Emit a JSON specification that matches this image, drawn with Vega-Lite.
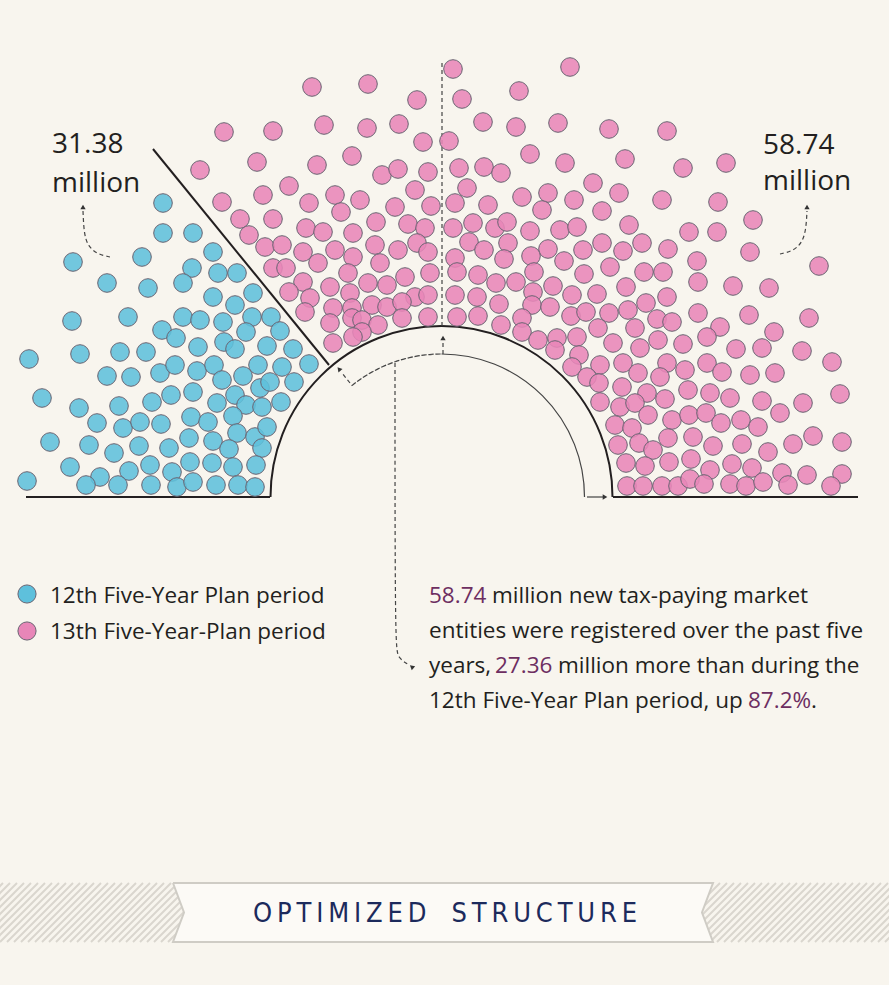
{
  "$schema": "https://vega.github.io/schema/vega-lite/v6.json",
  "width": 889,
  "height": 985,
  "padding": 0,
  "autosize": {"type": "fit", "contains": "padding"},
  "background": "#f8f5ee",
  "config": {"view": {"stroke": null}},
  "datasets": {
    "stripes": [
      {"x":-56,"x2":3,"y":942,"y2":883},{"x":-49,"x2":10,"y":942,"y2":883},{"x":-42,"x2":17,"y":942,"y2":883},{"x":-35,"x2":24,"y":942,"y2":883},{"x":-28,"x2":31,"y":942,"y2":883},{"x":-21,"x2":38,"y":942,"y2":883},{"x":-14,"x2":45,"y":942,"y2":883},{"x":-7,"x2":52,"y":942,"y2":883},{"x":0,"x2":59,"y":942,"y2":883},{"x":7,"x2":66,"y":942,"y2":883},{"x":14,"x2":73,"y":942,"y2":883},{"x":21,"x2":80,"y":942,"y2":883},{"x":28,"x2":87,"y":942,"y2":883},{"x":35,"x2":94,"y":942,"y2":883},{"x":42,"x2":101,"y":942,"y2":883},{"x":49,"x2":108,"y":942,"y2":883},{"x":56,"x2":115,"y":942,"y2":883},{"x":63,"x2":122,"y":942,"y2":883},{"x":70,"x2":129,"y":942,"y2":883},{"x":77,"x2":136,"y":942,"y2":883},{"x":84,"x2":143,"y":942,"y2":883},{"x":91,"x2":150,"y":942,"y2":883},{"x":98,"x2":157,"y":942,"y2":883},{"x":105,"x2":164,"y":942,"y2":883},{"x":112,"x2":171,"y":942,"y2":883},{"x":119,"x2":178,"y":942,"y2":883},{"x":126,"x2":185,"y":942,"y2":883},{"x":133,"x2":192,"y":942,"y2":883},{"x":140,"x2":199,"y":942,"y2":883},{"x":147,"x2":206,"y":942,"y2":883},{"x":154,"x2":213,"y":942,"y2":883},{"x":161,"x2":220,"y":942,"y2":883},{"x":168,"x2":227,"y":942,"y2":883},{"x":175,"x2":234,"y":942,"y2":883},
      {"x":654,"x2":713,"y":942,"y2":883},{"x":661,"x2":720,"y":942,"y2":883},{"x":668,"x2":727,"y":942,"y2":883},{"x":675,"x2":734,"y":942,"y2":883},{"x":682,"x2":741,"y":942,"y2":883},{"x":689,"x2":748,"y":942,"y2":883},{"x":696,"x2":755,"y":942,"y2":883},{"x":703,"x2":762,"y":942,"y2":883},{"x":710,"x2":769,"y":942,"y2":883},{"x":717,"x2":776,"y":942,"y2":883},{"x":724,"x2":783,"y":942,"y2":883},{"x":731,"x2":790,"y":942,"y2":883},{"x":738,"x2":797,"y":942,"y2":883},{"x":745,"x2":804,"y":942,"y2":883},{"x":752,"x2":811,"y":942,"y2":883},{"x":759,"x2":818,"y":942,"y2":883},{"x":766,"x2":825,"y":942,"y2":883},{"x":773,"x2":832,"y":942,"y2":883},{"x":780,"x2":839,"y":942,"y2":883},{"x":787,"x2":846,"y":942,"y2":883},{"x":794,"x2":853,"y":942,"y2":883},{"x":801,"x2":860,"y":942,"y2":883},{"x":808,"x2":867,"y":942,"y2":883},{"x":815,"x2":874,"y":942,"y2":883},{"x":822,"x2":881,"y":942,"y2":883},{"x":829,"x2":888,"y":942,"y2":883},{"x":836,"x2":895,"y":942,"y2":883},{"x":843,"x2":902,"y":942,"y2":883},{"x":850,"x2":909,"y":942,"y2":883},{"x":857,"x2":916,"y":942,"y2":883},{"x":864,"x2":923,"y":942,"y2":883},{"x":871,"x2":930,"y":942,"y2":883},{"x":878,"x2":937,"y":942,"y2":883},{"x":885,"x2":944,"y":942,"y2":883}
    ],
    "dots": [
      {"x":163,"y":203,"g":"b"},{"x":163,"y":233,"g":"b"},{"x":193,"y":233,"g":"b"},{"x":73,"y":262,"g":"b"},{"x":142,"y":257,"g":"b"},{"x":213,"y":252,"g":"b"},{"x":107,"y":283,"g":"b"},{"x":148,"y":288,"g":"b"},{"x":192,"y":268,"g":"b"},{"x":218,"y":273,"g":"b"},{"x":237,"y":273,"g":"b"},{"x":183,"y":283,"g":"b"},{"x":213,"y":297,"g":"b"},{"x":253,"y":293,"g":"b"},{"x":235,"y":305,"g":"b"},
      {"x":72,"y":321,"g":"b"},{"x":128,"y":317,"g":"b"},{"x":183,"y":317,"g":"b"},{"x":200,"y":320,"g":"b"},{"x":223,"y":322,"g":"b"},{"x":252,"y":317,"g":"b"},{"x":271,"y":317,"g":"b"},{"x":162,"y":330,"g":"b"},{"x":176,"y":338,"g":"b"},{"x":246,"y":332,"g":"b"},{"x":280,"y":331,"g":"b"},
      {"x":29,"y":359,"g":"b"},{"x":80,"y":354,"g":"b"},{"x":120,"y":352,"g":"b"},{"x":146,"y":352,"g":"b"},{"x":198,"y":347,"g":"b"},{"x":224,"y":342,"g":"b"},{"x":235,"y":349,"g":"b"},{"x":267,"y":346,"g":"b"},{"x":293,"y":349,"g":"b"},{"x":309,"y":364,"g":"b"},
      {"x":107,"y":376,"g":"b"},{"x":131,"y":377,"g":"b"},{"x":160,"y":373,"g":"b"},{"x":175,"y":365,"g":"b"},{"x":197,"y":371,"g":"b"},{"x":214,"y":365,"g":"b"},{"x":222,"y":380,"g":"b"},{"x":243,"y":376,"g":"b"},{"x":258,"y":365,"g":"b"},{"x":282,"y":367,"g":"b"},{"x":260,"y":388,"g":"b"},{"x":270,"y":382,"g":"b"},{"x":294,"y":382,"g":"b"},
      {"x":42,"y":398,"g":"b"},{"x":79,"y":408,"g":"b"},{"x":119,"y":406,"g":"b"},{"x":152,"y":402,"g":"b"},{"x":171,"y":395,"g":"b"},{"x":193,"y":392,"g":"b"},{"x":217,"y":403,"g":"b"},{"x":235,"y":395,"g":"b"},{"x":246,"y":405,"g":"b"},{"x":262,"y":407,"g":"b"},{"x":281,"y":402,"g":"b"},
      {"x":97,"y":423,"g":"b"},{"x":123,"y":428,"g":"b"},{"x":140,"y":422,"g":"b"},{"x":161,"y":424,"g":"b"},{"x":191,"y":417,"g":"b"},{"x":208,"y":422,"g":"b"},{"x":233,"y":416,"g":"b"},{"x":237,"y":433,"g":"b"},{"x":255,"y":437,"g":"b"},{"x":267,"y":427,"g":"b"},
      {"x":50,"y":442,"g":"b"},{"x":89,"y":445,"g":"b"},{"x":114,"y":453,"g":"b"},{"x":139,"y":446,"g":"b"},{"x":169,"y":448,"g":"b"},{"x":189,"y":438,"g":"b"},{"x":213,"y":441,"g":"b"},{"x":229,"y":449,"g":"b"},{"x":262,"y":448,"g":"b"},
      {"x":70,"y":467,"g":"b"},{"x":100,"y":477,"g":"b"},{"x":129,"y":471,"g":"b"},{"x":150,"y":465,"g":"b"},{"x":172,"y":472,"g":"b"},{"x":190,"y":462,"g":"b"},{"x":212,"y":463,"g":"b"},{"x":233,"y":467,"g":"b"},{"x":256,"y":465,"g":"b"},
      {"x":27,"y":481,"g":"b"},{"x":86,"y":485,"g":"b"},{"x":118,"y":485,"g":"b"},{"x":151,"y":485,"g":"b"},{"x":177,"y":487,"g":"b"},{"x":193,"y":482,"g":"b"},{"x":216,"y":485,"g":"b"},{"x":238,"y":485,"g":"b"},{"x":255,"y":487,"g":"b"},
      {"x":312,"y":87,"g":"p"},{"x":368,"y":84,"g":"p"},{"x":453,"y":69,"g":"p"},{"x":570,"y":67,"g":"p"},{"x":417,"y":100,"g":"p"},{"x":462,"y":99,"g":"p"},{"x":519,"y":91,"g":"p"},
      {"x":224,"y":132,"g":"p"},{"x":273,"y":131,"g":"p"},{"x":324,"y":125,"g":"p"},{"x":367,"y":128,"g":"p"},{"x":399,"y":124,"g":"p"},{"x":483,"y":122,"g":"p"},{"x":516,"y":127,"g":"p"},{"x":558,"y":123,"g":"p"},{"x":609,"y":129,"g":"p"},{"x":667,"y":131,"g":"p"},
      {"x":423,"y":142,"g":"p"},{"x":449,"y":141,"g":"p"},{"x":530,"y":154,"g":"p"},{"x":565,"y":163,"g":"p"},{"x":625,"y":159,"g":"p"},{"x":683,"y":168,"g":"p"},{"x":726,"y":163,"g":"p"},
      {"x":200,"y":170,"g":"p"},{"x":257,"y":162,"g":"p"},{"x":317,"y":165,"g":"p"},{"x":352,"y":156,"g":"p"},{"x":382,"y":175,"g":"p"},{"x":398,"y":169,"g":"p"},{"x":428,"y":172,"g":"p"},{"x":459,"y":168,"g":"p"},{"x":484,"y":167,"g":"p"},{"x":501,"y":173,"g":"p"},
      {"x":289,"y":186,"g":"p"},{"x":415,"y":190,"g":"p"},{"x":467,"y":188,"g":"p"},{"x":593,"y":183,"g":"p"},
      {"x":222,"y":202,"g":"p"},{"x":263,"y":195,"g":"p"},{"x":309,"y":203,"g":"p"},{"x":335,"y":195,"g":"p"},{"x":360,"y":200,"g":"p"},{"x":395,"y":207,"g":"p"},{"x":431,"y":206,"g":"p"},{"x":455,"y":203,"g":"p"},{"x":488,"y":205,"g":"p"},{"x":522,"y":197,"g":"p"},{"x":548,"y":193,"g":"p"},{"x":574,"y":200,"g":"p"},{"x":619,"y":193,"g":"p"},{"x":662,"y":200,"g":"p"},{"x":718,"y":202,"g":"p"},
      {"x":341,"y":212,"g":"p"},{"x":542,"y":210,"g":"p"},{"x":602,"y":211,"g":"p"},{"x":753,"y":220,"g":"p"},
      {"x":240,"y":219,"g":"p"},{"x":273,"y":219,"g":"p"},{"x":306,"y":228,"g":"p"},{"x":323,"y":232,"g":"p"},{"x":376,"y":222,"g":"p"},{"x":408,"y":224,"g":"p"},{"x":425,"y":228,"g":"p"},{"x":453,"y":228,"g":"p"},{"x":473,"y":223,"g":"p"},{"x":495,"y":228,"g":"p"},{"x":507,"y":222,"g":"p"},{"x":530,"y":231,"g":"p"},{"x":560,"y":230,"g":"p"},{"x":577,"y":227,"g":"p"},{"x":629,"y":225,"g":"p"},{"x":689,"y":232,"g":"p"},{"x":717,"y":232,"g":"p"},
      {"x":249,"y":235,"g":"p"},{"x":353,"y":233,"g":"p"},{"x":469,"y":242,"g":"p"},{"x":417,"y":243,"g":"p"},{"x":375,"y":245,"g":"p"},{"x":508,"y":243,"g":"p"},{"x":602,"y":243,"g":"p"},{"x":642,"y":243,"g":"p"},
      {"x":265,"y":247,"g":"p"},{"x":282,"y":245,"g":"p"},{"x":303,"y":252,"g":"p"},{"x":335,"y":250,"g":"p"},{"x":398,"y":250,"g":"p"},{"x":548,"y":249,"g":"p"},{"x":583,"y":250,"g":"p"},{"x":623,"y":251,"g":"p"},{"x":668,"y":249,"g":"p"},{"x":750,"y":252,"g":"p"},{"x":484,"y":250,"g":"p"},
      {"x":353,"y":257,"g":"p"},{"x":428,"y":252,"g":"p"},{"x":455,"y":258,"g":"p"},{"x":504,"y":259,"g":"p"},{"x":531,"y":256,"g":"p"},{"x":564,"y":261,"g":"p"},{"x":697,"y":261,"g":"p"},{"x":819,"y":266,"g":"p"},
      {"x":273,"y":268,"g":"p"},{"x":286,"y":268,"g":"p"},{"x":318,"y":263,"g":"p"},{"x":380,"y":263,"g":"p"},{"x":348,"y":273,"g":"p"},{"x":405,"y":277,"g":"p"},{"x":430,"y":273,"g":"p"},{"x":457,"y":272,"g":"p"},{"x":478,"y":275,"g":"p"},{"x":534,"y":272,"g":"p"},{"x":584,"y":274,"g":"p"},{"x":610,"y":267,"g":"p"},{"x":644,"y":272,"g":"p"},{"x":663,"y":272,"g":"p"},
      {"x":303,"y":282,"g":"p"},{"x":368,"y":283,"g":"p"},{"x":387,"y":285,"g":"p"},{"x":496,"y":283,"g":"p"},{"x":516,"y":282,"g":"p"},{"x":553,"y":286,"g":"p"},{"x":626,"y":287,"g":"p"},{"x":698,"y":282,"g":"p"},{"x":733,"y":286,"g":"p"},{"x":769,"y":288,"g":"p"},
      {"x":289,"y":292,"g":"p"},{"x":330,"y":287,"g":"p"},{"x":350,"y":293,"g":"p"},{"x":310,"y":298,"g":"p"},{"x":415,"y":297,"g":"p"},{"x":428,"y":295,"g":"p"},{"x":455,"y":295,"g":"p"},{"x":477,"y":297,"g":"p"},{"x":533,"y":292,"g":"p"},{"x":572,"y":295,"g":"p"},{"x":597,"y":294,"g":"p"},{"x":667,"y":297,"g":"p"},
      {"x":333,"y":308,"g":"p"},{"x":352,"y":308,"g":"p"},{"x":372,"y":305,"g":"p"},{"x":387,"y":307,"g":"p"},{"x":402,"y":302,"g":"p"},{"x":499,"y":304,"g":"p"},{"x":532,"y":305,"g":"p"},{"x":550,"y":307,"g":"p"},{"x":646,"y":303,"g":"p"},
      {"x":305,"y":312,"g":"p"},{"x":402,"y":318,"g":"p"},{"x":428,"y":317,"g":"p"},{"x":457,"y":317,"g":"p"},{"x":478,"y":316,"g":"p"},{"x":522,"y":318,"g":"p"},{"x":571,"y":316,"g":"p"},{"x":586,"y":312,"g":"p"},{"x":609,"y":313,"g":"p"},{"x":628,"y":310,"g":"p"},{"x":657,"y":319,"g":"p"},{"x":698,"y":313,"g":"p"},{"x":749,"y":315,"g":"p"},{"x":809,"y":318,"g":"p"},{"x":672,"y":322,"g":"p"},
      {"x":330,"y":323,"g":"p"},{"x":352,"y":318,"g":"p"},{"x":362,"y":320,"g":"p"},{"x":378,"y":325,"g":"p"},{"x":501,"y":325,"g":"p"},{"x":598,"y":328,"g":"p"},{"x":635,"y":328,"g":"p"},{"x":720,"y":327,"g":"p"},
      {"x":362,"y":332,"g":"p"},{"x":353,"y":337,"g":"p"},{"x":522,"y":332,"g":"p"},{"x":774,"y":332,"g":"p"},{"x":333,"y":343,"g":"p"},{"x":538,"y":340,"g":"p"},{"x":557,"y":338,"g":"p"},{"x":577,"y":337,"g":"p"},{"x":658,"y":340,"g":"p"},{"x":707,"y":337,"g":"p"},{"x":613,"y":343,"g":"p"},{"x":683,"y":344,"g":"p"},
      {"x":555,"y":350,"g":"p"},{"x":579,"y":355,"g":"p"},{"x":640,"y":348,"g":"p"},{"x":736,"y":349,"g":"p"},{"x":762,"y":348,"g":"p"},{"x":802,"y":351,"g":"p"},
      {"x":572,"y":367,"g":"p"},{"x":600,"y":365,"g":"p"},{"x":623,"y":363,"g":"p"},{"x":667,"y":363,"g":"p"},{"x":707,"y":363,"g":"p"},{"x":832,"y":362,"g":"p"},
      {"x":638,"y":373,"g":"p"},{"x":660,"y":377,"g":"p"},{"x":685,"y":370,"g":"p"},{"x":722,"y":372,"g":"p"},{"x":750,"y":375,"g":"p"},{"x":775,"y":373,"g":"p"},{"x":587,"y":377,"g":"p"},
      {"x":599,"y":383,"g":"p"},{"x":622,"y":387,"g":"p"},{"x":647,"y":393,"g":"p"},{"x":688,"y":390,"g":"p"},{"x":710,"y":393,"g":"p"},{"x":730,"y":398,"g":"p"},{"x":665,"y":399,"g":"p"},{"x":762,"y":401,"g":"p"},{"x":803,"y":403,"g":"p"},{"x":840,"y":394,"g":"p"},
      {"x":600,"y":402,"g":"p"},{"x":620,"y":407,"g":"p"},{"x":635,"y":403,"g":"p"},
      {"x":780,"y":413,"g":"p"},{"x":615,"y":425,"g":"p"},{"x":632,"y":428,"g":"p"},{"x":648,"y":415,"g":"p"},{"x":672,"y":420,"g":"p"},{"x":689,"y":415,"g":"p"},{"x":706,"y":413,"g":"p"},{"x":721,"y":423,"g":"p"},{"x":741,"y":420,"g":"p"},{"x":758,"y":427,"g":"p"},
      {"x":618,"y":445,"g":"p"},{"x":639,"y":443,"g":"p"},{"x":653,"y":450,"g":"p"},{"x":668,"y":438,"g":"p"},{"x":693,"y":437,"g":"p"},{"x":713,"y":446,"g":"p"},{"x":742,"y":444,"g":"p"},{"x":768,"y":452,"g":"p"},{"x":793,"y":444,"g":"p"},{"x":813,"y":436,"g":"p"},{"x":842,"y":442,"g":"p"},
      {"x":626,"y":463,"g":"p"},{"x":645,"y":466,"g":"p"},{"x":669,"y":462,"g":"p"},{"x":691,"y":459,"g":"p"},{"x":710,"y":470,"g":"p"},{"x":732,"y":464,"g":"p"},{"x":752,"y":468,"g":"p"},{"x":782,"y":473,"g":"p"},{"x":807,"y":475,"g":"p"},{"x":842,"y":474,"g":"p"},
      {"x":627,"y":486,"g":"p"},{"x":643,"y":486,"g":"p"},{"x":662,"y":486,"g":"p"},{"x":678,"y":486,"g":"p"},{"x":690,"y":479,"g":"p"},{"x":704,"y":484,"g":"p"},{"x":730,"y":484,"g":"p"},{"x":746,"y":486,"g":"p"},{"x":763,"y":482,"g":"p"},{"x":788,"y":485,"g":"p"},{"x":831,"y":486,"g":"p"}
    ]
  },
  "encoding": {
    "x": {"field": "x", "type": "quantitative", "scale": {"domain": [0, 889], "nice": false, "zero": false}, "axis": null},
    "y": {"field": "y", "type": "quantitative", "scale": {"domain": [0, 985], "nice": false, "zero": false, "reverse": true}, "axis": null}
  },
  "layer": [
    {
      "data": {"name": "stripes"},
      "mark": {"type": "rule", "stroke": "#dad6ce", "strokeWidth": 2, "clip": true},
      "encoding": {"x2": {"field": "x2"}, "y2": {"field": "y2"}}
    },
    {
      "data": {"values": [
        {"x":173,"y":883,"y2":883,"h":"t"},{"x":184,"y":883,"y2":912.5,"h":"t"},{"x":702,"y":883,"y2":912.5,"h":"t"},{"x":713,"y":883,"y2":883,"h":"t"},
        {"x":173,"y":942,"y2":942,"h":"b"},{"x":184,"y":942,"y2":912.5,"h":"b"},{"x":702,"y":942,"y2":912.5,"h":"b"},{"x":713,"y":942,"y2":942,"h":"b"}
      ]},
      "mark": {"type": "area", "fill": "#fcfaf6", "stroke": "#fcfaf6", "strokeWidth": 1},
      "encoding": {"y2": {"field": "y2"}, "detail": {"field": "h"}}
    },
    {
      "data": {"values": [
        {"x":173,"y":883,"o":0},{"x":713,"y":883,"o":1},{"x":702,"y":912.5,"o":2},{"x":713,"y":942,"o":3},{"x":173,"y":942,"o":4},{"x":184,"y":912.5,"o":5},{"x":173,"y":883,"o":6}
      ]},
      "mark": {"type": "line", "stroke": "#cfccc5", "strokeWidth": 2},
      "encoding": {"order": {"field": "o", "type": "quantitative"}}
    },
    {
      "data": {"values": [{"x":445,"y":914,"t":"O\u2009P\u2009T\u2009I\u2009M\u2009I\u2009Z\u2009E\u2009D\u2009\u00a0\u00a0\u2009S\u2009T\u2009R\u2009U\u2009C\u2009T\u2009U\u2009R\u2009E"}]},
      "mark": {"type": "text", "font": "DejaVu Sans Condensed, Liberation Sans Narrow, sans-serif", "fontSize": 27, "color": "#1c2a5c", "align": "center", "baseline": "middle"},
      "encoding": {"text": {"field": "t"}}
    },
    {
      "data": {"values": [
        {"x":26,"y":497,"x2":270,"y2":497},
        {"x":613,"y":497,"x2":858,"y2":497},
        {"x":153,"y":149,"x2":329,"y2":365}
      ]},
      "mark": {"type": "rule", "stroke": "#231f20", "strokeWidth": 2},
      "encoding": {"x2": {"field": "x2"}, "y2": {"field": "y2"}}
    },
    {
      "data": {"values": [{"x":587,"y":497,"x2":603,"y2":497}]},
      "mark": {"type": "rule", "stroke": "#444444", "strokeWidth": 1.2},
      "encoding": {"x2": {"field": "x2"}, "y2": {"field": "y2"}}
    },
    {
      "data": {"values": [{"x":441.5,"y":497}]},
      "mark": {"type": "arc", "theta": -1.5708, "theta2": 1.5708, "radius": 171, "radius2": 171, "filled": false, "stroke": "#231f20", "strokeWidth": 2}
    },
    {
      "data": {"values": [{"x":441.5,"y":497}]},
      "mark": {"type": "arc", "theta": 0, "theta2": 1.5708, "radius": 143, "radius2": 143, "filled": false, "stroke": "#444444", "strokeWidth": 1.2}
    },
    {
      "data": {"values": [{"x":441.5,"y":497}]},
      "mark": {"type": "arc", "theta": -0.68, "theta2": 0, "radius": 143, "radius2": 143, "filled": false, "stroke": "#444444", "strokeWidth": 1.2, "strokeDash": [4, 3]}
    },
    {
      "data": {"values": [
        {"x":442,"y":63,"id":"v","o":0},{"x":442,"y":326,"id":"v","o":1},
        {"x":443,"y":354,"id":"u","o":0},{"x":443,"y":340,"id":"u","o":1},
        {"x":350,"y":383,"id":"l","o":0},{"x":342,"y":373,"id":"l","o":1},
        {"x":395,"y":363,"id":"d","o":0},{"x":395,"y":646,"id":"d","o":1},{"x":398,"y":658,"id":"d","o":2},{"x":409,"y":665,"id":"d","o":3},
        {"x":110,"y":257,"id":"a","o":0},{"x":97,"y":254,"id":"a","o":1},{"x":88,"y":246,"id":"a","o":2},{"x":84,"y":234,"id":"a","o":3},{"x":83,"y":211,"id":"a","o":4},
        {"x":780,"y":254,"id":"b","o":0},{"x":793,"y":251,"id":"b","o":1},{"x":802,"y":243,"id":"b","o":2},{"x":806,"y":230,"id":"b","o":3},{"x":807,"y":211,"id":"b","o":4}
      ]},
      "mark": {"type": "line", "stroke": "#444444", "strokeWidth": 1.2, "strokeDash": [4, 3], "interpolate": "basis"},
      "encoding": {"detail": {"field": "id"}, "order": {"field": "o", "type": "quantitative"}}
    },
    {
      "data": {"values": [
        {"x":83,"y":207,"a":0},{"x":807,"y":207,"a":0},{"x":443,"y":338,"a":0},{"x":339,"y":369,"a":-40},{"x":413,"y":667,"a":70},{"x":605,"y":497,"a":90}
      ]},
      "mark": {"type": "point", "shape": "triangle-up", "filled": true, "size": 28, "color": "#333333", "opacity": 1},
      "encoding": {"angle": {"field": "a", "type": "quantitative", "scale": null}}
    },
    {
      "data": {"name": "dots"},
      "mark": {"type": "point", "shape": "circle", "filled": true, "size": 346, "stroke": "#6a6472", "strokeWidth": 1, "fillOpacity": 0.88, "strokeOpacity": 1},
      "encoding": {"color": {"field": "g", "type": "nominal", "scale": {"domain": ["b", "p"], "range": ["#5ec0dc", "#e886b8"]}, "legend": null}}
    },
    {
      "data": {"values": [{"x":27,"y":594,"g":"b"},{"x":27,"y":631,"g":"p"}]},
      "mark": {"type": "point", "shape": "circle", "filled": true, "size": 330, "stroke": "#6a6472", "strokeWidth": 1, "fillOpacity": 1, "strokeOpacity": 1},
      "encoding": {"color": {"field": "g", "type": "nominal", "legend": null}}
    },
    {
      "data": {"values": [
        {"x":52,"y":153,"t":"31.38"},{"x":52,"y":192,"t":"million"},{"x":763,"y":154,"t":"58.74"},{"x":763,"y":190,"t":"million"}
      ]},
      "mark": {"type": "text", "font": "Open Sans", "fontSize": 28, "color": "#231f20", "align": "left", "baseline": "alphabetic"},
      "encoding": {"text": {"field": "t"}}
    },
    {
      "data": {"values": [
        {"x":50,"y":603,"t":"12th Five-Year Plan period"},
        {"x":50,"y":639,"t":"13th Five-Year-Plan period"},
        {"x":492,"y":603,"t":"million new tax-paying market"},
        {"x":429,"y":638,"t":"entities were registered over the past five"},
        {"x":429,"y":673,"t":"years,"},
        {"x":558,"y":673,"t":"million more than during the"},
        {"x":429,"y":708,"t":"12th Five-Year Plan period, up"},
        {"x":811,"y":708,"t":"."}
      ]},
      "mark": {"type": "text", "font": "Open Sans", "fontSize": 22.5, "color": "#231f20", "align": "left", "baseline": "alphabetic"},
      "encoding": {"text": {"field": "t"}}
    },
    {
      "data": {"values": [
        {"x":429,"y":603,"t":"58.74"},{"x":495,"y":673,"t":"27.36"},{"x":748,"y":708,"t":"87.2%"}
      ]},
      "mark": {"type": "text", "font": "Open Sans", "fontSize": 22.5, "color": "#6d2e61", "align": "left", "baseline": "alphabetic"},
      "encoding": {"text": {"field": "t"}}
    }
  ]
}
